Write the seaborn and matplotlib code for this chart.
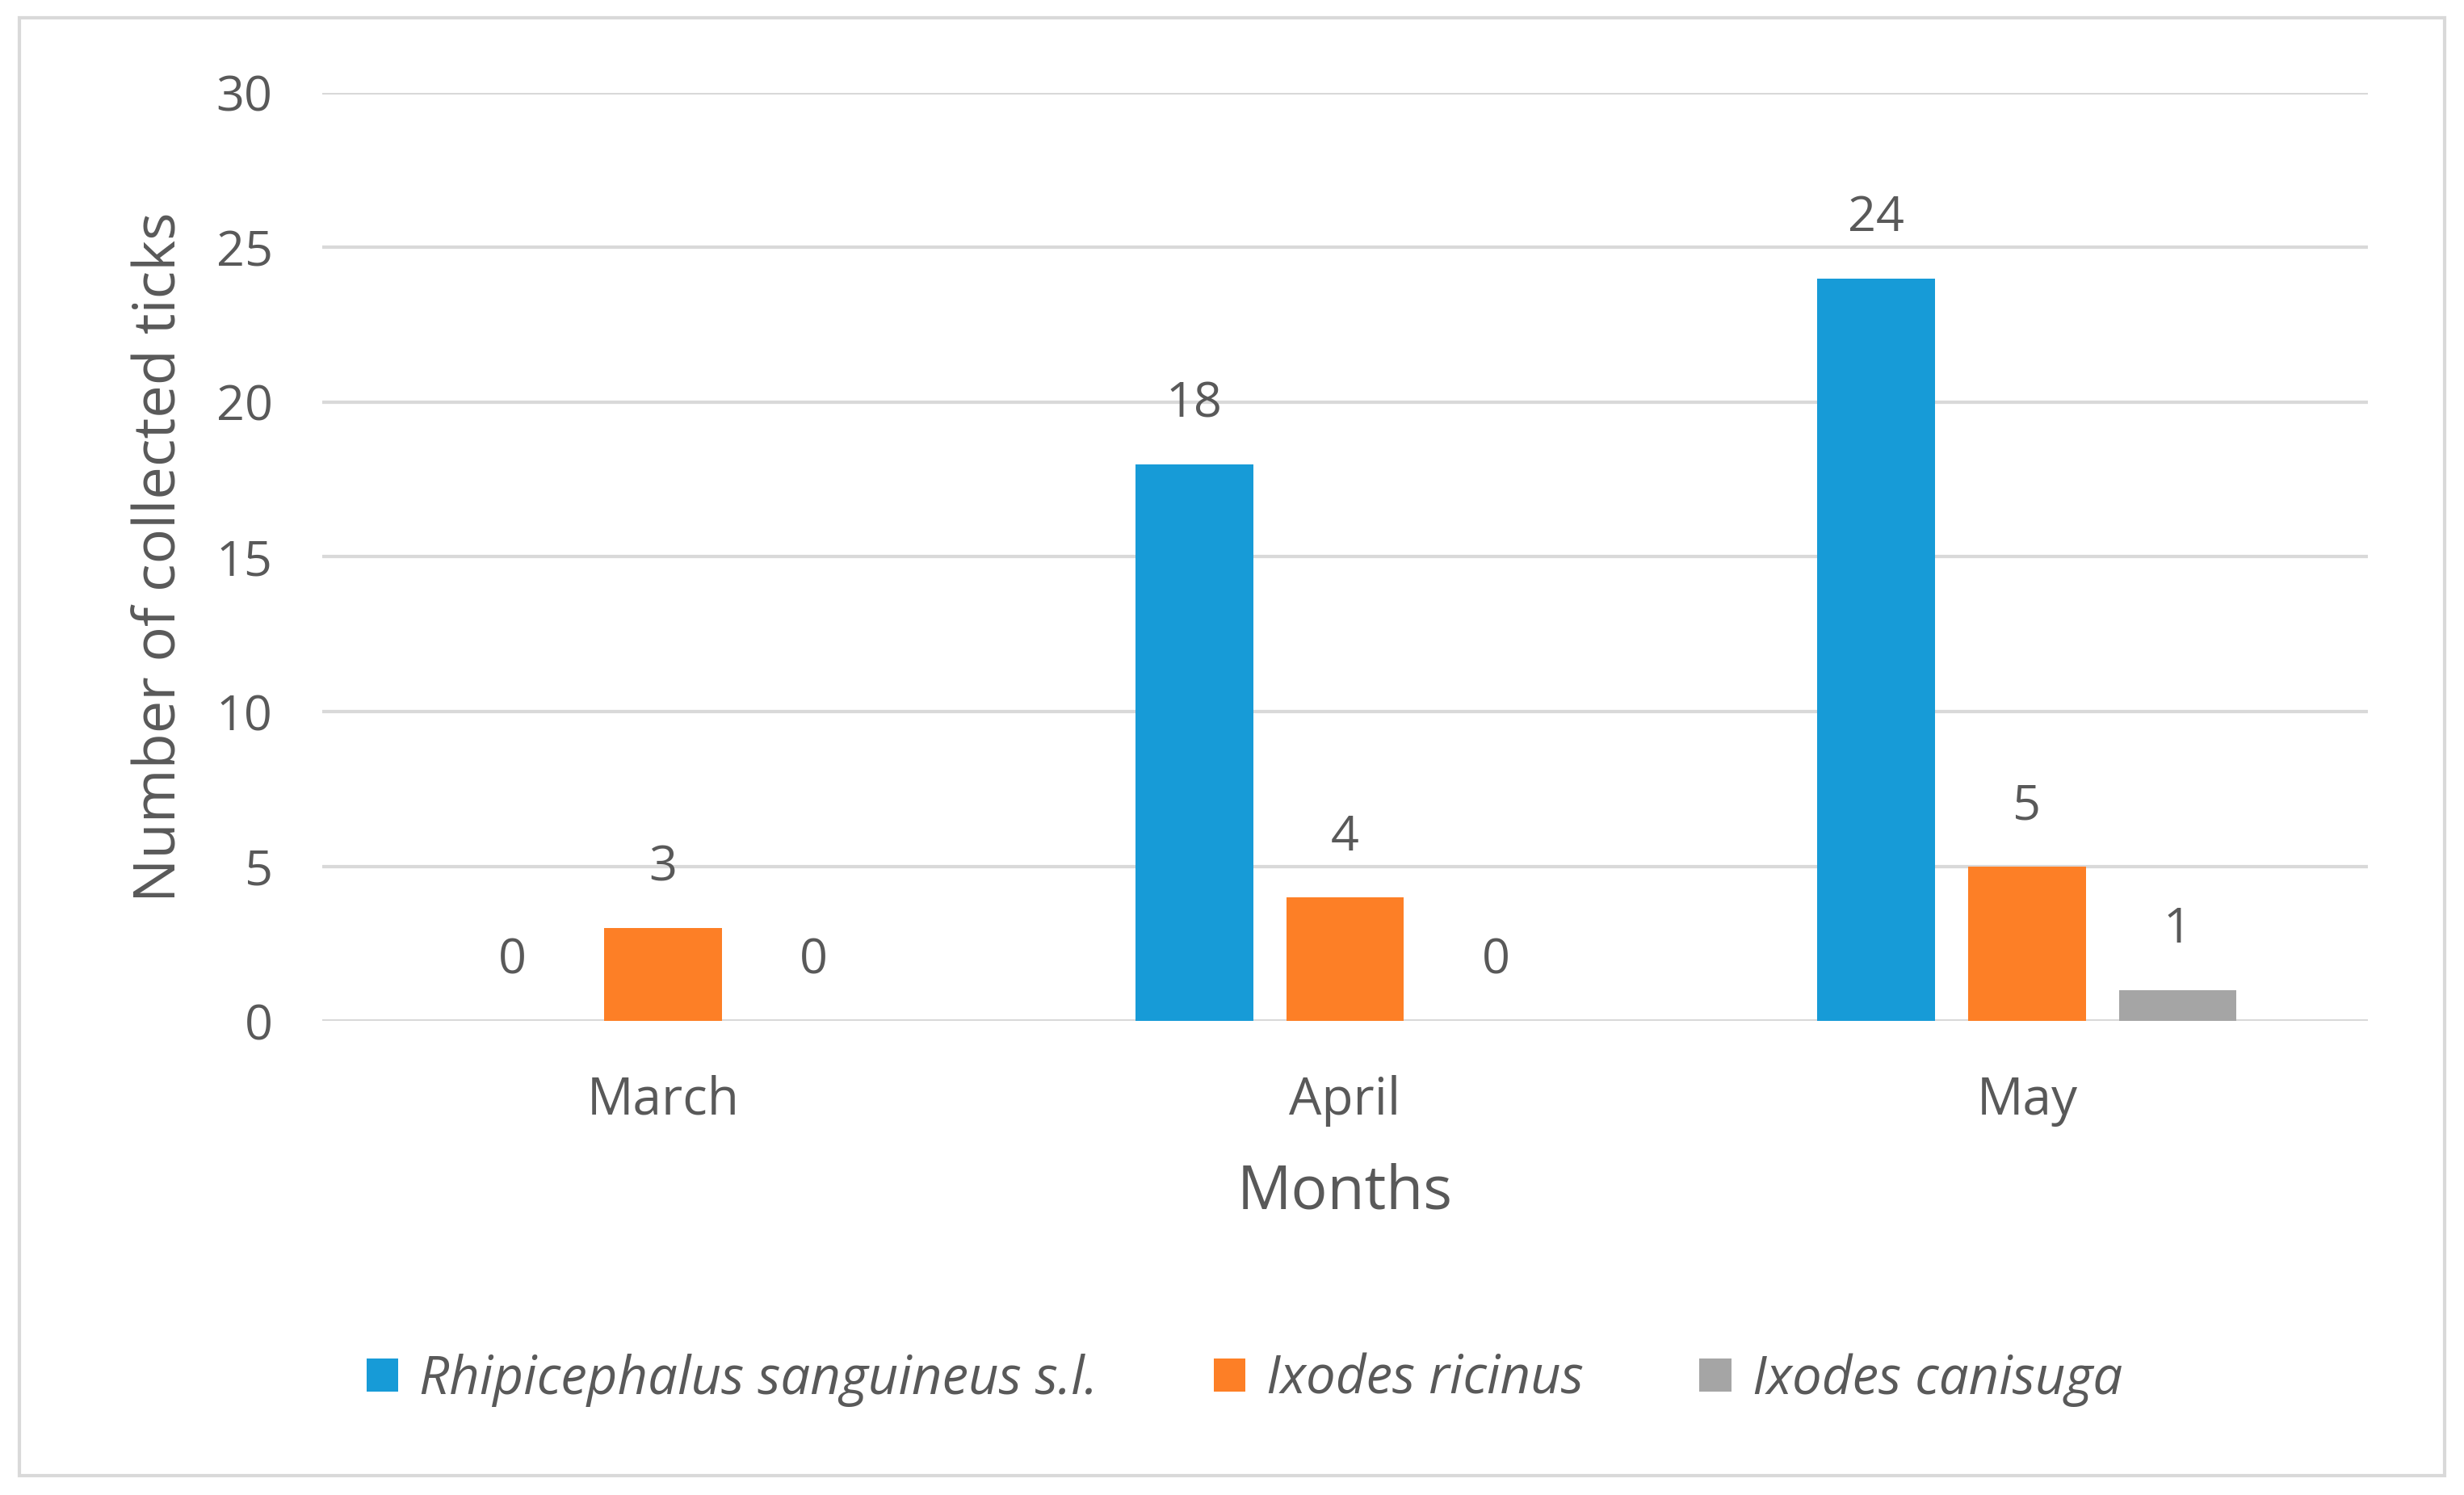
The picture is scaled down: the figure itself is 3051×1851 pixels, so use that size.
import matplotlib
matplotlib.use('Agg')
import matplotlib.pyplot as plt
import seaborn as sns
import pandas as pd
from matplotlib.patches import Rectangle

# data
months = ['March', 'April', 'May']
species = ['Rhipicephalus sanguineus s.l.', 'Ixodes ricinus', 'Ixodes canisuga']
rhipicephalus = [0, 18, 24]
ricinus = [3, 4, 5]
canisuga = [0, 0, 1]
y_ticks = [0, 5, 10, 15, 20, 25, 30]

colors = ['#179BD7', '#FD7F26', '#A5A5A5']
text_col = '#595959'
grid_col = '#D9D9D9'

df = pd.DataFrame({
    'month': months * 3,
    'species': [species[0]] * 3 + [species[1]] * 3 + [species[2]] * 3,
    'count': rhipicephalus + ricinus + canisuga,
})

sns.set_theme(style='white')
plt.rcParams['font.family'] = ['Open Sans', 'DejaVu Sans']

fig = plt.figure(figsize=(15.255, 9.255), dpi=200)
ax = fig.add_axes([0.1307, 0.317, 0.961 - 0.1307, 0.938 - 0.317])

sns.barplot(data=df, x='month', y='count', hue='species', order=months,
            hue_order=species, palette=colors, width=0.663, gap=0.22,
            saturation=1, linewidth=0, ax=ax, legend=True)

# value labels above every bar (zeros too)
for cont in ax.containers:
    ax.bar_label(cont, fmt='%d', padding=16, fontsize=22, color=text_col)

ax.set_ylim(0, 30)
ax.set_xlim(-0.5, 2.5)
ax.set_yticks(y_ticks)
ax.yaxis.grid(True, color=grid_col, linewidth=1.5)
ax.set_axisbelow(True)
for s in ax.spines.values():
    s.set_visible(False)
ax.tick_params(axis='y', length=0, labelsize=22, colors=text_col, pad=22)
ax.tick_params(axis='x', length=0, labelsize=23, colors=text_col, pad=24)
ax.set_xlabel('Months', fontsize=27, color=text_col, labelpad=16)
ax.set_ylabel('Number of collected ticks', fontsize=26, color=text_col, labelpad=12)

handles, labels = ax.get_legend_handles_labels()
ax.get_legend().remove()
leg = fig.legend(handles, labels, loc='center', bbox_to_anchor=(0.505, 0.077),
                 ncol=3, frameon=False, handlelength=0.6, handleheight=0.6,
                 columnspacing=2.2, handletextpad=0.4,
                 prop={'size': 23.5, 'style': 'italic'})
for t in leg.get_texts():
    t.set_color(text_col)

# light frame round the whole chart
fig.patches.append(Rectangle((0.008, 0.013), 0.984, 0.975, transform=fig.transFigure,
                             fill=False, edgecolor=grid_col, linewidth=1.5))

fig.savefig('out.png', dpi=200)
